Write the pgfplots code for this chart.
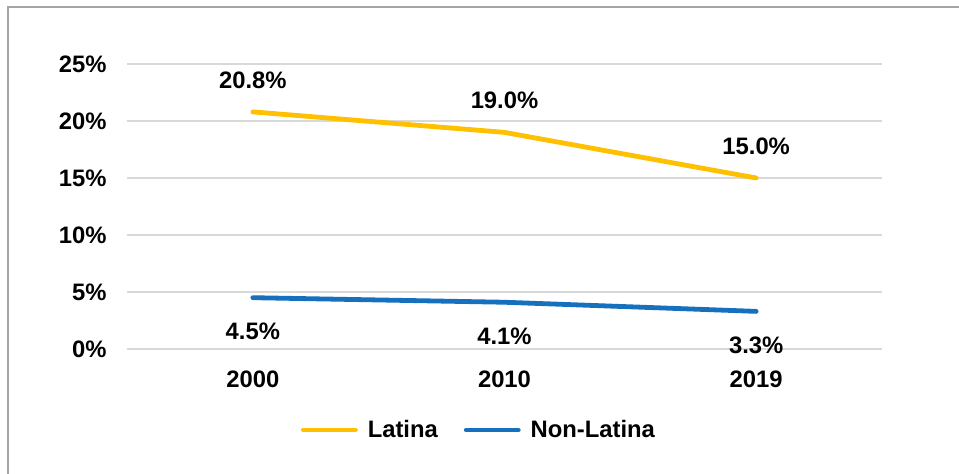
\documentclass[border=0pt]{standalone}
\usepackage{pgfplots}
\pgfplotsset{compat=1.18}
\usepackage{fontspec}
\setmainfont{Liberation Sans}
\definecolor{latina}{RGB}{255,192,0}
\definecolor{nonlat}{RGB}{22,112,190}
\definecolor{gridc}{RGB}{217,217,217}
\definecolor{framec}{RGB}{165,165,165}
\begin{document}
\begin{tikzpicture}
\path[use as bounding box] (0pt,0pt) rectangle (479.5pt,237pt);
\draw[framec, line width=0.7pt] (479.5pt,233.5pt) -- (4pt,233.5pt) -- (4pt,-3pt);
\begin{axis}[
  at={(63.5pt,62.5pt)}, anchor=south west,
  scale only axis, width=377.5pt, height=142.5pt,
  xmin=-0.5, xmax=2.5, ymin=0, ymax=25,
  xtick={0,1,2}, xticklabels={2000,2010,2019},
  ytick={0,5,10,15,20,25}, yticklabels={0\%,5\%,10\%,15\%,20\%,25\%},
  axis line style={draw=none},
  major tick length=0pt,
  ymajorgrids, grid style={gridc, line width=1pt},
  /pgf/number format/assume math mode=true,
  font=\fontsize{11.9pt}{14pt}\selectfont\bfseries,
  yticklabel style={inner sep=0pt, anchor=east, xshift=-10pt},
  xticklabel style={inner sep=0pt, anchor=north, yshift=-10.5pt},
  clip=false,
  legend style={at={(0.4675,-0.284)}, anchor=center, draw=none, fill=none,
    legend columns=2, font=\fontsize{11.9pt}{14pt}\selectfont\bfseries,
    /tikz/every even column/.append style={column sep=11pt},
    legend cell align=left, inner sep=0pt},
  legend image code/.code={\draw[#1, line width=2.4pt, line cap=round] (0pt,0pt) -- (26pt,0pt);},
  nodes near coords={\pgfmathprintnumber[fixed,fixed zerofill,precision=1]{\pgfplotspointmeta}\%},
  every node near coord/.append style={font=\fontsize{11.9pt}{14pt}\selectfont\bfseries, text=black, anchor=center, inner sep=0pt},
]
\addplot[latina, line width=2.4pt, line cap=round, mark=none,
  every node near coord/.append style={yshift=16pt}] coordinates {(0,20.8) (1,19.0) (2,15.0)};
\addlegendentry{\hspace{3pt}Latina}
\addplot[nonlat, line width=2.4pt, line cap=round, mark=none,
  every node near coord/.append style={yshift=-17pt}] coordinates {(0,4.5) (1,4.1) (2,3.3)};
\addlegendentry{\hspace{3pt}Non-Latina}
\end{axis}
\end{tikzpicture}
\end{document}
